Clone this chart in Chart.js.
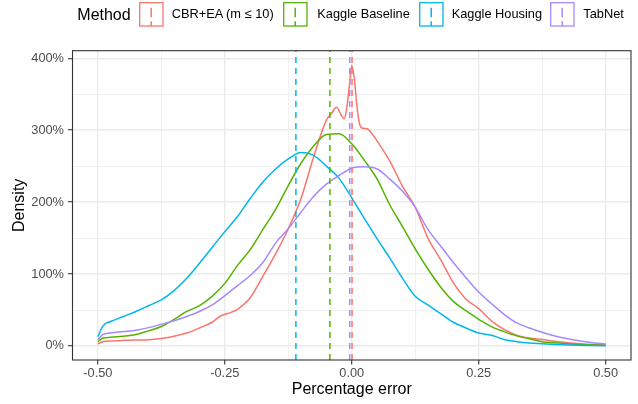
<!DOCTYPE html>
<html><head><meta charset="utf-8">
<script src="https://cdn.jsdelivr.net/npm/chart.js@4.4.1/dist/chart.umd.min.js"></script>
<style>
html,body{margin:0;padding:0;background:#fff;}
#wrap{position:relative;width:638px;height:404px;font-family:"Liberation Sans",Arial,Helvetica,sans-serif;overflow:hidden;}
#c{position:absolute;left:0;top:0;}
.lg{position:absolute;white-space:nowrap;line-height:1;color:#000;}
.key{position:absolute;}
</style></head><body>
<div id="wrap"><canvas id="c" width="638" height="404"></canvas><div id="legend"></div></div>
<script>
// ---- data ----
const legendTitle = "Method";
const methods = ["CBR+EA (m \u2264 10)", "Kaggle Baseline", "Kaggle Housing", "TabNet"];
const colors = ["#F8766D", "#53B400", "#00B6EB", "#A58AFF"];
const means = [0.0006, -0.043, -0.110, -0.004];

const cbrX = [-0.5,-0.49,-0.475,-0.45,-0.425,-0.4,-0.375,-0.35,-0.325,-0.3,-0.275,-0.26,-0.25,-0.24,-0.225,-0.2,-0.175,-0.15,-0.125,-0.1,-0.075,-0.05,-0.04,-0.03,-0.02,-0.015,-0.01,-0.005,0,0.005,0.01,0.015,0.02,0.03,0.04,0.05,0.075,0.1,0.125,0.15,0.175,0.2,0.225,0.25,0.275,0.3,0.325,0.35,0.375,0.4,0.425,0.45,0.475,0.5];
const cbrY = [3,6,7,7.8,8.2,8.7,10.5,13.5,18,25,33,41,44,46,51,67,97,128,163,205,263,314,323,332,320,316,330,360,390,372,335,310,303,302,295,285,257,222,193,150,120,88,65,52,35,23,15,11,9,6.5,4.5,3,2,1.5];

const xGrid = [-0.5,-0.49,-0.475,-0.45,-0.425,-0.4,-0.375,-0.35,-0.325,-0.3,-0.275,-0.25,-0.225,-0.2,-0.175,-0.15,-0.125,-0.1,-0.075,-0.05,-0.025,0,0.025,0.05,0.075,0.1,0.125,0.15,0.175,0.2,0.225,0.25,0.275,0.3,0.325,0.35,0.375,0.4,0.425,0.45,0.475,0.5];
const baselineY = [6,11,12,13.5,16,21,27,37,48,56,69,87,112,134,162,190,223,254,278,294,295,281,258,232,196,166,135,107,82,62,49,37,27,20,14,10,6,4.5,3,2,1.5,1];
const housingY = [13,28,34,41,48,56,64,77,94,115,137,159,180,205,228,246,260,269,265,250,233,206,177,149,122,94,69,57,45,33,25,18,15,9,6,4,3,2,1.5,1,0.7,0.4];
const tabnetY = [9,16,18,20,22,25.5,30,35,41,48,57,70,84,98,116,143,163,186,208,225,237,247,249,246,232,215,193,162,139,116,95,75,59,44,32,25,19,14,10,7,4.5,2.8];

const xTicks = [-0.5,-0.375,-0.25,-0.125,0,0.125,0.25,0.375,0.5];
const xTickLabels = ["-0.50","","-0.25","","0.00","","0.25","","0.50"];
const yTicks = [0,50,100,150,200,250,300,350,400];
const yTickLabels = ["0%","","100%","","200%","","300%","","400%"];
const xTitle = "Percentage error";
const yTitle = "Density";

// ---- build ----
const X_MIN = -0.55, X_MAX = 0.55, Y_MIN = -19.5, Y_MAX = 410.5;
const seriesX = [cbrX, xGrid, xGrid, xGrid];
const seriesY = [cbrY, baselineY, housingY, tabnetY];

const datasets = [];
methods.forEach((m, i) => {
  datasets.push({
    type: 'line', label: m,
    data: seriesX[i].map((x, j) => ({x: x, y: seriesY[i][j]})),
    borderColor: colors[i], borderWidth: 1.5, pointRadius: 0,
    cubicInterpolationMode: 'monotone', fill: false, order: 20 - i
  });
});
methods.forEach((m, i) => {
  datasets.push({
    type: 'line', label: m + ' mean',
    data: [{x: means[i], y: Y_MIN}, {x: means[i], y: Y_MAX}],
    borderColor: colors[i], borderWidth: 1.5, borderDash: [6, 5], pointRadius: 0,
    fill: false, order: 10 - i
  });
});

const borderPlugin = {
  id: 'panelBorder',
  afterDatasetsDraw(chart) {
    const a = chart.chartArea, ctx = chart.ctx;
    ctx.save();
    ctx.strokeStyle = '#333333';
    ctx.lineWidth = 1.1;
    ctx.strokeRect(a.left, a.top, a.right - a.left, a.bottom - a.top);
    ctx.restore();
  }
};

const tickFont = {family: '"Liberation Sans", Arial, sans-serif', size: 12.8};
const titleFont = {family: '"Liberation Sans", Arial, sans-serif', size: 16};

new Chart(document.getElementById('c'), {
  type: 'line',
  data: {datasets: datasets},
  options: {
    responsive: false, animation: false,
    layout: {padding: {left: 0, top: 50.7, right: 7, bottom: 0}},
    plugins: {legend: {display: false}, tooltip: {enabled: false}},
    scales: {
      x: {
        type: 'linear', min: X_MIN, max: X_MAX,
        afterBuildTicks: s => { s.ticks = xTicks.map(v => ({value: v})); },
        afterFit: s => { s.height = 44; },
        ticks: {
          autoSkip: false, maxRotation: 0, padding: 1, color: '#4D4D4D', font: tickFont,
          callback: (v, i) => xTickLabels[i]
        },
        grid: {
          color: '#EBEBEB', drawTicks: true, tickLength: 4.4,
          lineWidth: c => (xTickLabels[c.index] ? 1.4 : 0.7),
          tickColor: c => (xTickLabels[c.index] ? '#333333' : 'rgba(0,0,0,0)'),
          tickWidth: 1.1
        },
        border: {display: false},
        title: {display: true, text: xTitle, color: '#000', font: titleFont, padding: {top: 0, bottom: 4.4}}
      },
      y: {
        type: 'linear', min: Y_MIN, max: Y_MAX,
        afterBuildTicks: s => { s.ticks = yTicks.map(v => ({value: v})); },
        afterFit: s => { s.width = 72.5; },
        ticks: {
          autoSkip: false, padding: 4.1, color: '#4D4D4D', font: tickFont,
          callback: (v, i) => yTickLabels[i]
        },
        grid: {
          color: '#EBEBEB', drawTicks: true, tickLength: 4.4,
          lineWidth: c => (yTickLabels[c.index] ? 1.4 : 0.7),
          tickColor: c => (yTickLabels[c.index] ? '#333333' : 'rgba(0,0,0,0)'),
          tickWidth: 1.1
        },
        border: {display: false},
        title: {display: true, text: yTitle, color: '#000', font: titleFont, padding: {top: 9.6, bottom: 0}}
      }
    }
  },
  plugins: [borderPlugin]
});

// ---- legend (HTML) ----
const lg = document.getElementById('legend');
const keyLefts = [139, 283.3, 419, 550];
const labelLefts = [171.7, 317.3, 451.7, 583.3];
const t = document.createElement('div');
t.className = 'lg'; t.textContent = legendTitle;
t.style.left = '77.3px'; t.style.top = '6.7px'; t.style.fontSize = '16px';
lg.appendChild(t);
methods.forEach((m, i) => {
  const k = document.createElementNS('http://www.w3.org/2000/svg', 'svg');
  k.setAttribute('class', 'key');
  k.setAttribute('width', '25'); k.setAttribute('height', '25');
  k.style.left = keyLefts[i] + 'px'; k.style.top = '1.5px';
  k.innerHTML = '<rect x="0.7" y="0.7" width="23.3" height="23.3" fill="#fff" stroke="' + colors[i] + '" stroke-width="1.3"/>' +
    '<line x1="12.2" y1="5.8" x2="12.2" y2="15.2" stroke="' + colors[i] + '" stroke-width="1.5"/>' +
    '<line x1="12.2" y1="19.2" x2="12.2" y2="24.3" stroke="' + colors[i] + '" stroke-width="1.5"/>';
  lg.appendChild(k);
  const l = document.createElement('div');
  l.className = 'lg'; l.textContent = m;
  l.style.left = labelLefts[i] + 'px'; l.style.top = '8.25px'; l.style.fontSize = '12.8px';
  lg.appendChild(l);
});
</script>
</body></html>
